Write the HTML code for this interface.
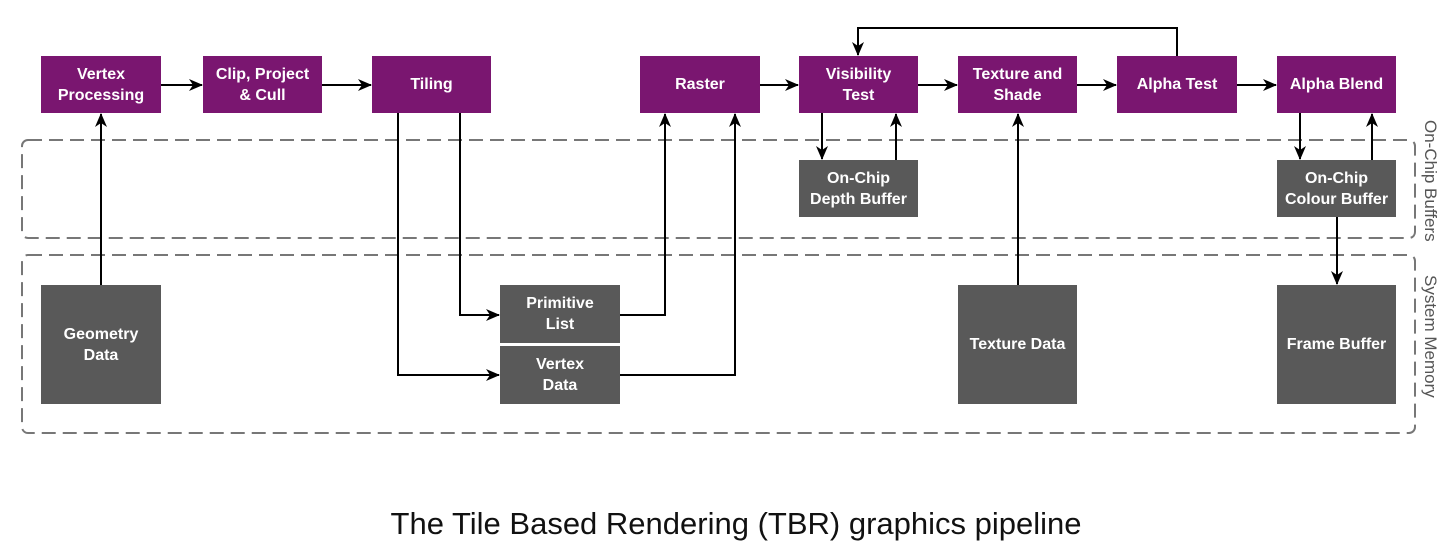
<!DOCTYPE html>
<html><head><style>
body{margin:0;background:#fff;}
.b{position:absolute;display:flex;align-items:center;justify-content:center;text-align:center;color:#fff;font:bold 16px/21px "Liberation Sans",sans-serif;}
.p{background:#7a1670;}
.g{background:#595959;}
.v{position:absolute;font:17px "Liberation Sans",sans-serif;color:#555;transform:rotate(90deg);transform-origin:left top;white-space:nowrap;}
</style></head><body>
<div style="position:relative;width:1452px;height:560px;overflow:hidden">
<svg width="1452" height="560" style="position:absolute;left:0;top:0">
<defs><marker id="a" markerWidth="14" markerHeight="12" refX="13" refY="6" orient="auto" markerUnits="userSpaceOnUse"><path d="M0,0 L14,6 L0,12 L4,6 z" fill="#000"/></marker></defs>
<rect x="22" y="140" width="1393" height="98" rx="6" fill="none" stroke="#777" stroke-width="2" stroke-dasharray="14,7"/>
<rect x="22" y="255" width="1393" height="178" rx="6" fill="none" stroke="#777" stroke-width="2" stroke-dasharray="14,7"/>
<g stroke="#000" stroke-width="2" fill="none" marker-end="url(#a)">
<line x1="161" y1="85" x2="202" y2="85"/>
<line x1="322" y1="85" x2="371" y2="85"/>
<line x1="760" y1="85" x2="798" y2="85"/>
<line x1="918" y1="85" x2="957" y2="85"/>
<line x1="1077" y1="85" x2="1116" y2="85"/>
<line x1="1237" y1="85" x2="1276" y2="85"/>
<line x1="101" y1="285" x2="101" y2="114"/>
<polyline points="460,113 460,315 499,315"/>
<polyline points="398,113 398,375 499,375"/>
<polyline points="620,315 665,315 665,114"/>
<polyline points="620,375 735,375 735,114"/>
<line x1="822" y1="113" x2="822" y2="159"/>
<line x1="896" y1="160" x2="896" y2="114"/>
<line x1="1018" y1="285" x2="1018" y2="114"/>
<polyline points="1177,56 1177,28 858,28 858,55"/>
<line x1="1300" y1="113" x2="1300" y2="159"/>
<line x1="1372" y1="160" x2="1372" y2="114"/>
<line x1="1337" y1="217" x2="1337" y2="284"/>
</g>
</svg>
<div class="b p" style="left:41px;top:56px;width:120px;height:57px">Vertex<br>Processing</div>
<div class="b p" style="left:203px;top:56px;width:119px;height:57px">Clip, Project<br>&amp; Cull</div>
<div class="b p" style="left:372px;top:56px;width:119px;height:57px">Tiling</div>
<div class="b p" style="left:640px;top:56px;width:120px;height:57px">Raster</div>
<div class="b p" style="left:799px;top:56px;width:119px;height:57px">Visibility<br>Test</div>
<div class="b p" style="left:958px;top:56px;width:119px;height:57px">Texture and<br>Shade</div>
<div class="b p" style="left:1117px;top:56px;width:120px;height:57px">Alpha Test</div>
<div class="b p" style="left:1277px;top:56px;width:119px;height:57px">Alpha Blend</div>
<div class="b g" style="left:799px;top:160px;width:119px;height:57px">On-Chip<br>Depth Buffer</div>
<div class="b g" style="left:1277px;top:160px;width:119px;height:57px">On-Chip<br>Colour Buffer</div>
<div class="b g" style="left:41px;top:285px;width:120px;height:119px">Geometry<br>Data</div>
<div class="b g" style="left:500px;top:285px;width:120px;height:58px">Primitive<br>List</div>
<div class="b g" style="left:500px;top:346px;width:120px;height:58px">Vertex<br>Data</div>
<div class="b g" style="left:958px;top:285px;width:119px;height:119px">Texture Data</div>
<div class="b g" style="left:1277px;top:285px;width:119px;height:119px">Frame Buffer</div>
<div class="v" style="left:1440px;top:120px">On-Chip Buffers</div>
<div class="v" style="left:1440px;top:275px">System Memory</div>
<div style="position:absolute;left:0;width:1472px;top:506px;text-align:center;font:31px 'Liberation Sans',sans-serif;color:#111">The Tile Based Rendering (TBR) graphics pipeline</div>
</div>
</body></html>
